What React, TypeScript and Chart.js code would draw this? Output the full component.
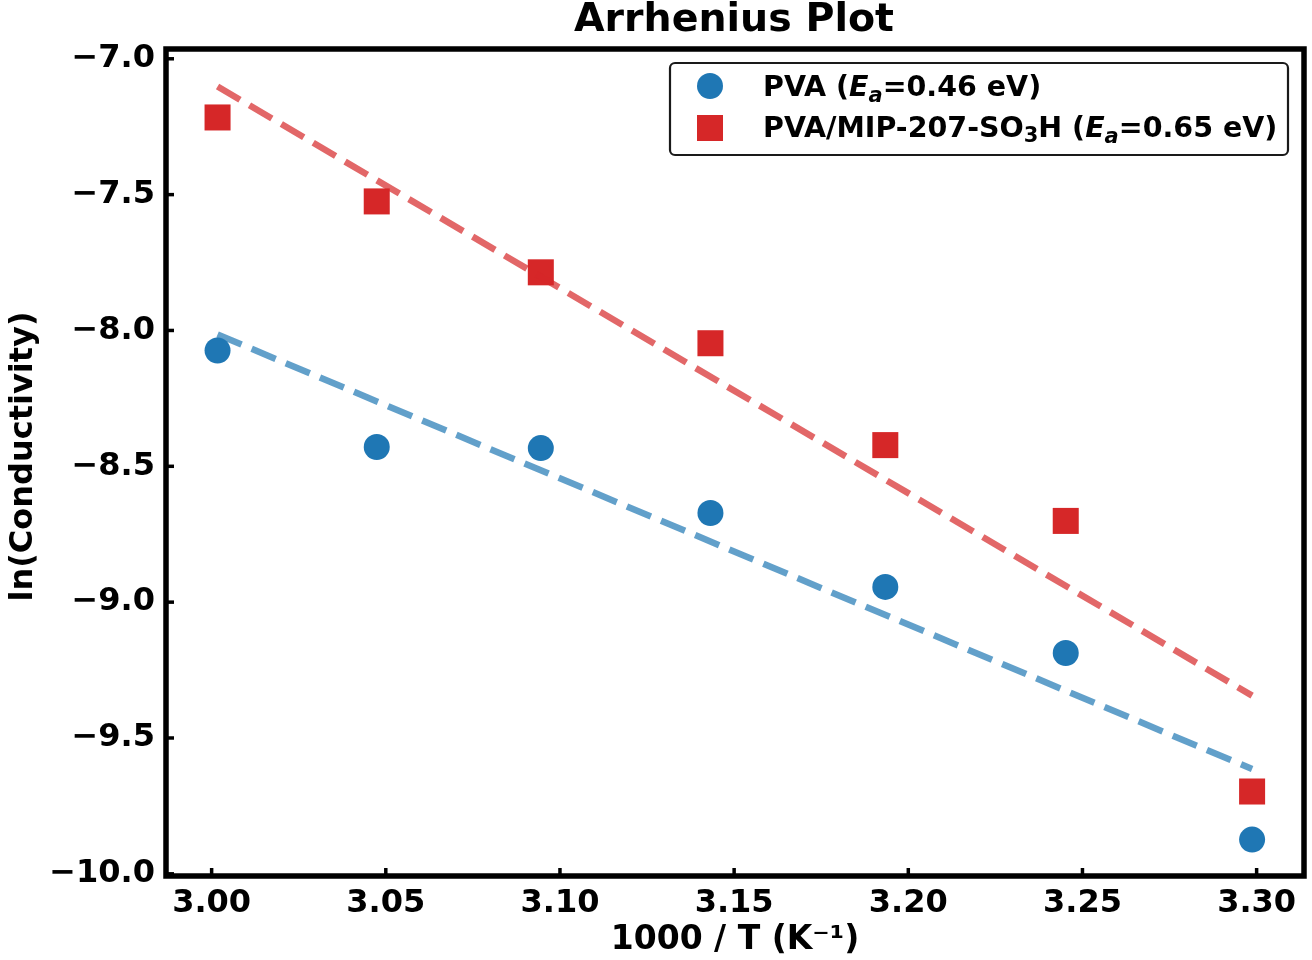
import React, { useEffect, useRef } from "react";
import { Chart, registerables } from "chart.js";

Chart.register(...registerables);

// ---- data ----
const invT = [3.0017, 3.0474, 3.0945, 3.1432, 3.1934, 3.2452, 3.2987];
const pvaLnSigma = [-8.074, -8.429, -8.433, -8.672, -8.944, -9.187, -9.874];
const mipLnSigma = [-7.216, -7.525, -7.786, -8.047, -8.422, -8.701, -9.697];
const fitX = [3.0017, 3.2987];
const pvaFit = [-8.015, -9.614];
const mipFit = [-7.102, -9.344];
const xTicks = [3.0, 3.05, 3.1, 3.15, 3.2, 3.25, 3.3];
const yTicks = [-10.0, -9.5, -9.0, -8.5, -8.0, -7.5, -7.0];
const titleText = "Arrhenius Plot";
const xLabelText = "1000 / T (K\u207B\u00B9)";
const yLabelText = "ln(Conductivity)";
// legend segments: [text, style] with style n=bold, i=bold italic, s=subscript, si=subscript italic
const legendPVA: [string, string][] = [["PVA (", "n"], ["E", "i"], ["a", "si"], ["=0.46 eV)", "n"]];
const legendMIP: [string, string][] = [
  ["PVA/MIP-207-SO", "n"], ["3", "s"], ["H (", "n"], ["E", "i"], ["a", "si"], ["=0.65 eV)", "n"],
];

const FAMILY = "'DejaVu Sans', sans-serif";
const BLUE = "#1f77b4";
const RED = "#d62728";

const decorPlugin = {
  id: "decor",
  beforeDraw(chart: any) {
    const ctx = chart.ctx;
    ctx.save();
    ctx.fillStyle = "#ffffff";
    ctx.fillRect(0, 0, chart.width, chart.height);
    ctx.restore();
  },
  afterDraw(chart: any) {
    const ctx = chart.ctx;
    const a = chart.chartArea;
    const xs = chart.scales.x;
    const ys = chart.scales.y;
    ctx.save();
    // ticks (inward)
    ctx.strokeStyle = "#000";
    ctx.lineWidth = 3.5;
    ctx.lineCap = "butt";
    xTicks.forEach((v) => {
      const px = xs.getPixelForValue(v);
      ctx.beginPath();
      ctx.moveTo(px, a.bottom);
      ctx.lineTo(px, a.bottom - 8);
      ctx.stroke();
    });
    yTicks.forEach((v) => {
      const py = ys.getPixelForValue(v);
      ctx.beginPath();
      ctx.moveTo(a.left, py);
      ctx.lineTo(a.left + 8, py);
      ctx.stroke();
    });
    // frame
    ctx.lineWidth = 5.5;
    ctx.lineJoin = "miter";
    ctx.strokeRect(a.left, a.top, a.right - a.left, a.bottom - a.top);

    // title
    const cx = (a.left + a.right) / 2;
    ctx.fillStyle = "#000";
    ctx.textAlign = "center";
    ctx.textBaseline = "alphabetic";
    ctx.font = `bold 39.5px ${FAMILY}`;
    ctx.fillText(titleText, cx - 1, 31);
    // x label
    ctx.font = `bold 33px ${FAMILY}`;
    ctx.fillText(xLabelText, cx, 949);
    // y label
    ctx.font = `bold 32px ${FAMILY}`;
    ctx.save();
    ctx.translate(32, (a.top + a.bottom) / 2 - 6);
    ctx.rotate(-Math.PI / 2);
    ctx.fillText(yLabelText, 0, 0);
    ctx.restore();

    // legend
    const lx = 670, ly = 63, lw = 618, lh = 92, r = 5;
    ctx.beginPath();
    ctx.moveTo(lx + r, ly);
    ctx.arcTo(lx + lw, ly, lx + lw, ly + lh, r);
    ctx.arcTo(lx + lw, ly + lh, lx, ly + lh, r);
    ctx.arcTo(lx, ly + lh, lx, ly, r);
    ctx.arcTo(lx, ly, lx + lw, ly, r);
    ctx.closePath();
    ctx.fillStyle = "rgba(255,255,255,0.9)";
    ctx.fill();
    ctx.strokeStyle = "#1a1a1a";
    ctx.lineWidth = 2.2;
    ctx.stroke();

    // markers
    ctx.fillStyle = BLUE;
    ctx.beginPath();
    ctx.arc(710, 86, 13, 0, Math.PI * 2);
    ctx.fill();
    ctx.fillStyle = RED;
    ctx.fillRect(697, 115, 26, 26);

    const drawRich = (segs: [string, string][], x0: number, base: number) => {
      let x = x0;
      ctx.textAlign = "left";
      ctx.fillStyle = "#000";
      segs.forEach(([t, s]) => {
        let dy = 0;
        if (s === "n") ctx.font = `bold 28.5px ${FAMILY}`;
        else if (s === "i") ctx.font = `italic bold 28.5px ${FAMILY}`;
        else if (s === "s") { ctx.font = `bold 21px ${FAMILY}`; dy = 5; }
        else { ctx.font = `italic bold 21px ${FAMILY}`; dy = 6; }
        ctx.fillText(t, x, base + dy);
        x += ctx.measureText(t).width;
      });
    };
    drawRich(legendPVA, 763, 96);
    drawRich(legendMIP, 763, 137);
    ctx.restore();
  },
};

export default function App() {
  const ref = useRef<HTMLCanvasElement | null>(null);
  useEffect(() => {
    if (!ref.current) return;
    const tickFont = { size: 32, weight: "bold" as const, family: FAMILY };
    const chart = new Chart(ref.current, {
      type: "scatter",
      data: {
        datasets: [
          {
            type: "line",
            label: "PVA fit",
            data: fitX.map((x, i) => ({ x, y: pvaFit[i] })),
            borderColor: "rgba(31,119,180,0.7)",
            borderWidth: 6.5,
            borderDash: [26, 11],
            borderCapStyle: "butt",
            pointRadius: 0,
            showLine: true,
            fill: false,
            order: 0,
          } as any,
          {
            type: "line",
            label: "PVA/MIP fit",
            data: fitX.map((x, i) => ({ x, y: mipFit[i] })),
            borderColor: "rgba(214,39,40,0.7)",
            borderWidth: 6.5,
            borderDash: [26, 11],
            borderCapStyle: "butt",
            pointRadius: 0,
            showLine: true,
            fill: false,
            order: 0,
          } as any,
          {
            label: "PVA",
            data: invT.map((x, i) => ({ x, y: pvaLnSigma[i] })),
            pointStyle: "circle",
            pointRadius: 13,
            backgroundColor: BLUE,
            borderWidth: 0,
            order: 1,
          },
          {
            label: "PVA/MIP-207-SO3H",
            data: invT.map((x, i) => ({ x, y: mipLnSigma[i] })),
            pointStyle: "rect",
            pointRadius: 18.4,
            backgroundColor: RED,
            borderWidth: 0,
            order: 1,
          },
        ],
      },
      options: {
        animation: false,
        responsive: false,
        devicePixelRatio: 1,
        events: [],
        layout: { autoPadding: false, padding: { top: 49, right: 8, left: 0, bottom: 0 } },
        plugins: {
          legend: { display: false },
          title: { display: false },
          tooltip: { enabled: false },
        },
        scales: {
          x: {
            type: "linear",
            min: 2.9869,
            max: 3.3136,
            grid: { display: false, drawTicks: false },
            border: { display: false },
            afterBuildTicks: (s: any) => {
              s.ticks = xTicks.map((v) => ({ value: v }));
            },
            afterFit: (s: any) => {
              s.height = 84;
              s.paddingLeft = 0;
              s.paddingRight = 0;
            },
            ticks: {
              font: tickFont,
              color: "#000",
              padding: 8,
              maxRotation: 0,
              autoSkip: false,
              callback: (v: any) => Number(v).toFixed(2),
            },
          },
          y: {
            type: "linear",
            min: -10.008,
            max: -6.964,
            grid: { display: false, drawTicks: false },
            border: { display: false },
            afterBuildTicks: (s: any) => {
              s.ticks = yTicks.map((v) => ({ value: v }));
            },
            afterFit: (s: any) => {
              s.width = 166;
              s.paddingTop = 0;
              s.paddingBottom = 0;
            },
            ticks: {
              font: tickFont,
              color: "#000",
              padding: 11,
              autoSkip: false,
              callback: (v: any) => {
                const n = Number(v);
                return (n < 0 ? "\u2212" : "") + Math.abs(n).toFixed(1);
              },
            },
          },
        },
      },
      plugins: [decorPlugin],
    });
    return () => chart.destroy();
  }, []);
  return (
    <div style={{ position: "absolute", left: 0, top: 0, width: 1312, height: 960 }}>
      <canvas ref={ref} width={1312} height={960} style={{ display: "block" }} />
    </div>
  );
}
